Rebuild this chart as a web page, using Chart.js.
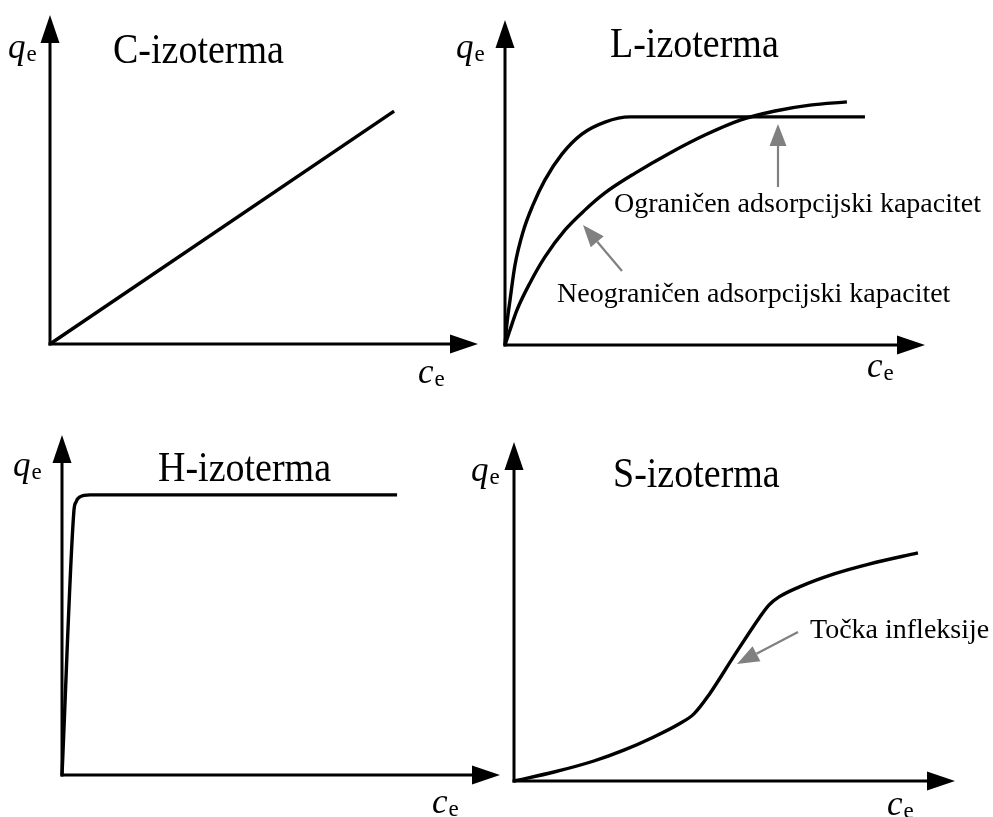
<!DOCTYPE html>
<html>
<head>
<meta charset="utf-8">
<script src="https://cdn.jsdelivr.net/npm/chart.js@4.4.1/dist/chart.umd.min.js"></script>
<style>
body{margin:0;background:#fff;}
#wrap{position:relative;width:993px;height:817px;background:#fff;}
#wrap canvas{position:absolute;left:0;top:0;}
</style>
</head>
<body>
<div id="wrap">
	<canvas id="c-izo" width="993" height="817"></canvas>
	<canvas id="l-izo" width="993" height="817"></canvas>
	<canvas id="h-izo" width="993" height="817"></canvas>
	<canvas id="s-izo" width="993" height="817"></canvas>
</div>
<script>
/* global Chart */
// valeurs (0..100 = pointe de la fleche de l'axe)
const cCe = [0, 80.4];
const cQe = [0, 70.8];

const lPlatCe = [0, 0.48, 1.19, 2.38, 4.29, 6.67, 9.52, 13.6, 18.3, 23.8, 29.8, 33.3, 85.7];
const lPlatQe = [0, 6.8, 13.8, 24.6, 34.8, 43.1, 50.8, 58.8, 64.9, 68.6, 70.2, 70.2, 70.2];

const lMonteCe = [0, 0.95, 2.86, 5.95, 9.52, 14.3, 19.0, 23.8, 31.0, 39.3, 47.6, 56.0, 64.3, 72.6, 81.4];
const lMonteQe = [0, 3.7, 10.8, 19.1, 27.1, 35.4, 41.5, 46.8, 52.9, 59.1, 64.6, 69.2, 72.0, 73.8, 74.8];

const hCe = [0, 2.7, 3.2, 4.1, 6.4, 76.5];
const hQe = [0, 77.4, 80.3, 81.8, 82.4, 82.4];

const sCe = [0, 9.07, 18.1, 24.9, 31.7, 37.4, 40.8, 44.2, 49.9, 55.6, 57.8, 60.1, 64.6, 72.6, 80.5, 91.6];
const sQe = [0, 2.65, 5.9, 9.1, 13.0, 16.8, 19.8, 25.4, 36.9, 48.1, 51.9, 54.3, 57.2, 61.1, 64.0, 67.3];

const FONT = "'Liberation Serif', 'Times New Roman', serif";
const GRIS = "#808080";

function points(xs, ys){
	return xs.map((x, i) => ({x: x, y: ys[i]}));
}

// mise en page de chaque panneau (pixels de la page)
const panneaux = [
	{
		id: "c-izo", titre: "C-izoterma", titreX: 113, titreY: 63,
		origine: [50, 344], pointe: [478, 15], q: [8, 58], c: [418, 383],
		courbes: [{data: points(cCe, cQe), lisse: false}],
		notes: []
	},
	{
		id: "l-izo", titre: "L-izoterma", titreX: 610, titreY: 57,
		origine: [505, 345], pointe: [925, 20], q: [456, 58], c: [867, 377],
		courbes: [{data: points(lPlatCe, lPlatQe), lisse: true}, {data: points(lMonteCe, lMonteQe), lisse: true}],
		notes: [
			{texte: "Ograničen adsorpcijski kapacitet", x: 614, y: 212, de: [778, 187], a: [778, 124]},
			{texte: "Neograničen adsorpcijski kapacitet", x: 557, y: 302, de: [622, 271], a: [583, 225]}
		]
	},
	{
		id: "h-izo", titre: "H-izoterma", titreX: 158, titreY: 481,
		origine: [62, 775], pointe: [500, 435], q: [13, 476], c: [432, 813],
		courbes: [{data: points(hCe, hQe), lisse: true}],
		notes: []
	},
	{
		id: "s-izo", titre: "S-izoterma", titreX: 613, titreY: 487,
		origine: [514, 781], pointe: [955, 442], q: [471, 481], c: [887, 815],
		courbes: [{data: points(sCe, sQe), lisse: true}],
		notes: [
			{texte: "Točka infleksije", x: 810, y: 638, de: [798, 632], a: [737, 664]}
		]
	}
];

function fleche(ctx, x1, y1, x2, y2, couleur, epaisseur, longTete, largTete){
	const ang = Math.atan2(y2 - y1, x2 - x1);
	const bx = x2 - longTete * Math.cos(ang);
	const by = y2 - longTete * Math.sin(ang);
	ctx.save();
	ctx.strokeStyle = couleur;
	ctx.fillStyle = couleur;
	ctx.lineWidth = epaisseur;
	ctx.beginPath();
	ctx.moveTo(x1, y1);
	ctx.lineTo(bx, by);
	ctx.stroke();
	ctx.beginPath();
	ctx.moveTo(x2, y2);
	ctx.lineTo(bx + largTete / 2 * Math.sin(ang), by - largTete / 2 * Math.cos(ang));
	ctx.lineTo(bx - largTete / 2 * Math.sin(ang), by + largTete / 2 * Math.cos(ang));
	ctx.closePath();
	ctx.fill();
	ctx.restore();
}

function symbole(ctx, lettre, x, y){
	ctx.fillStyle = "#000";
	ctx.textBaseline = "alphabetic";
	ctx.textAlign = "left";
	ctx.font = "italic 400 35px " + FONT;
	ctx.fillText(lettre, x, y);
	const w = ctx.measureText(lettre).width;
	ctx.font = "normal 400 23px " + FONT;
	ctx.fillText("e", x + w + 1, y + 3);
}

// texte un peu etire en hauteur comme sur l'original
function titre(ctx, texte, x, y){
	ctx.save();
	ctx.translate(x, y);
	ctx.scale(1, 1.1);
	ctx.font = "38px " + FONT;
	ctx.fillText(texte, 0, 0);
	ctx.restore();
}

// dessin des axes fleches, titres et annotations
const decor = {
	id: "decor",
	beforeDatasetsDraw(chart, args, opts){
		const ctx = chart.ctx;
		const p = opts.panneau;
		const sx = chart.scales.x, sy = chart.scales.y;
		const x0 = sx.getPixelForValue(0), y0 = sy.getPixelForValue(0);
		const xMax = sx.getPixelForValue(100), yMax = sy.getPixelForValue(100);
		fleche(ctx, x0, y0 + 1.5, x0, yMax, "#000", 3, 28, 19);
		fleche(ctx, x0 - 1.5, y0, xMax, y0, "#000", 3, 28, 19);

		ctx.save();
		ctx.fillStyle = "#000";
		ctx.textBaseline = "alphabetic";
		titre(ctx, p.titre, p.titreX, p.titreY);
		symbole(ctx, "q", p.q[0], p.q[1]);
		symbole(ctx, "c", p.c[0], p.c[1]);
		for(const n of p.notes){
			ctx.fillStyle = "#000";
			ctx.font = "28px " + FONT;
			ctx.fillText(n.texte, n.x, n.y);
			fleche(ctx, n.de[0], n.de[1], n.a[0], n.a[1], GRIS, 2.2, 22, 17);
		}
		ctx.restore();
	}
};

for(const p of panneaux){
	new Chart(document.getElementById(p.id), {
		type: "scatter",
		data: {
			datasets: p.courbes.map(c => ({
				data: c.data,
				showLine: true,
				borderColor: "#000",
				borderWidth: 3.4,
				pointRadius: 0,
				cubicInterpolationMode: c.lisse ? "monotone" : "default",
				clip: false
			}))
		},
		options: {
			responsive: false,
			animation: false,
			events: [],
			layout: {
				padding: {
					left: p.origine[0],
					top: p.pointe[1],
					right: 993 - p.pointe[0],
					bottom: 817 - p.origine[1]
				}
			},
			scales: {
				x: {type: "linear", min: 0, max: 100, display: false},
				y: {type: "linear", min: 0, max: 100, display: false}
			},
			plugins: {
				legend: {display: false},
				tooltip: {enabled: false},
				decor: {panneau: p}
			}
		},
		plugins: [decor]
	});
}
</script>
</body>
</html>
